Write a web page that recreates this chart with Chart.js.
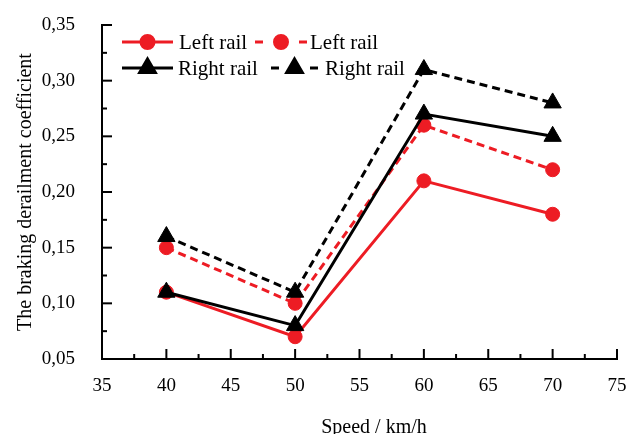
<!DOCTYPE html>
<html>
<head>
<meta charset="utf-8">
<script src="https://cdn.jsdelivr.net/npm/chart.js@4"></script>
<style>body{margin:0;background:#fff}canvas{display:block}</style>
</head>
<body>
<canvas id="brakingChart" width="628" height="434"></canvas>
<script>
// Speed (km/h) and braking derailment coefficient per series
const speeds = [40, 50, 60, 70];
const leftRailSolid = [0.11, 0.07, 0.21, 0.18];
const leftRailDashed = [0.15, 0.10, 0.26, 0.22];
const rightRailSolid = [0.11, 0.08, 0.27, 0.25];
const rightRailDashed = [0.16, 0.11, 0.31, 0.28];
const seriesNames = ['Left rail', 'Left rail', 'Right rail', 'Right rail'];

const RED = '#ed1c24';
const BLACK = '#000000';
const SERIF = "'Liberation Serif', serif";

Chart.defaults.font.family = SERIF;
Chart.defaults.font.size = 19;
Chart.defaults.color = '#000';

function series(label, values, color, style, dashed, order) {
  return {
    label: label,
    data: speeds.map((s, i) => ({x: s, y: values[i]})),
    borderColor: color,
    backgroundColor: color,
    borderWidth: 3,
    borderDash: dashed ? [8, 5] : [],
    pointStyle: style,
    pointRadius: style === 'triangle' ? 10 : 7,
    pointBackgroundColor: color,
    pointBorderColor: color,
    pointBorderWidth: 1,
    fill: false,
    tension: 0,
    order: order
  };
}

// legend is laid out 2 x 2 inside the plot, like the original
const legendSlots = [
  {x0: 122, x1: 173, y: 42, tx: 179},
  {x0: 255, x1: 307, y: 42, tx: 310},
  {x0: 122, x1: 173, y: 68, tx: 178},
  {x0: 271, x1: 318, y: 68, tx: 325}
];

const legendBox = {
  id: 'legendBox',
  afterDraw(chart) {
    const ctx = chart.ctx;
    ctx.save();
    chart.data.datasets.forEach((ds, i) => {
      const s = legendSlots[i];
      ctx.strokeStyle = ds.borderColor;
      ctx.fillStyle = ds.borderColor;
      ctx.lineWidth = 3;
      ctx.setLineDash([]);
      ctx.beginPath();
      if (ds.borderDash.length) {
        ctx.moveTo(s.x0, s.y); ctx.lineTo(s.x0 + 8, s.y);
        ctx.moveTo(s.x1 - 8, s.y); ctx.lineTo(s.x1, s.y);
      } else {
        ctx.moveTo(s.x0, s.y); ctx.lineTo(s.x1, s.y);
      }
      ctx.stroke();
      Chart.helpers.drawPoint(ctx, {
        pointStyle: ds.pointStyle,
        radius: ds.pointStyle === 'triangle' ? 9 : 6.5,
        rotation: 0,
        borderWidth: 1
      }, (s.x0 + s.x1) / 2, s.y);
      ctx.fillStyle = '#000';
      ctx.font = '21px ' + SERIF;
      ctx.textAlign = 'left';
      ctx.textBaseline = 'middle';
      ctx.fillText(ds.label, s.tx, s.y + 1);
    });
    ctx.restore();
  }
};

// tick marks point into the plot, with a minor tick halfway
const inwardTicks = {
  id: 'inwardTicks',
  afterDraw(chart) {
    const {ctx, chartArea: a, scales} = chart;
    ctx.save();
    ctx.strokeStyle = '#000';
    ctx.lineWidth = 2;
    const seg = (x1, y1, x2, y2) => { ctx.beginPath(); ctx.moveTo(x1, y1); ctx.lineTo(x2, y2); ctx.stroke(); };
    const xs = scales.x, ys = scales.y;
    xs.ticks.forEach((t, i) => {
      const p = xs.getPixelForValue(t.value);
      seg(p, a.bottom, p, a.bottom - 10);
      if (i < xs.ticks.length - 1) {
        const m = xs.getPixelForValue((t.value + xs.ticks[i + 1].value) / 2);
        seg(m, a.bottom, m, a.bottom - 5);
      }
    });
    ys.ticks.forEach((t, i) => {
      const p = ys.getPixelForValue(t.value);
      seg(a.left, p, a.left + 10, p);
      if (i < ys.ticks.length - 1) {
        const m = ys.getPixelForValue((t.value + ys.ticks[i + 1].value) / 2);
        seg(a.left, m, a.left + 5, m);
      }
    });
    // x axis title, drawn a little right of centre as in the original
    ctx.fillStyle = '#000';
    ctx.font = '20px ' + SERIF;
    ctx.textAlign = 'center';
    ctx.textBaseline = 'middle';
    ctx.fillText('Speed / km/h', 374, 428);
    ctx.restore();
  }
};

const ctx = document.getElementById('brakingChart').getContext('2d');

const brakingChart = new Chart(ctx, {
  type: 'line',
  data: {
    datasets: [
      series(seriesNames[0], leftRailSolid, RED, 'circle', false, 2),
      series(seriesNames[1], leftRailDashed, RED, 'circle', true, 2),
      series(seriesNames[2], rightRailSolid, BLACK, 'triangle', false, 1),
      series(seriesNames[3], rightRailDashed, BLACK, 'triangle', true, 1)
    ]
  },
  options: {
    responsive: false,
    animation: false,
    layout: {padding: {top: 25, right: 10, left: 0, bottom: 0}},
    plugins: {legend: {display: false}, tooltip: {enabled: false}},
    scales: {
      x: {
        type: 'linear',
        min: 35,
        max: 75,
        ticks: {stepSize: 5, padding: 8, font: {family: SERIF, size: 19}},
        grid: {display: false},
        border: {display: true, color: '#000', width: 2},
        afterFit: s => { s.height = 75; s.paddingLeft = 0; s.paddingRight = 0; }
      },
      y: {
        min: 0.05,
        max: 0.35,
        ticks: {
          stepSize: 0.05,
          padding: 19,
          font: {family: SERIF, size: 19},
          callback: v => v.toFixed(2).replace('.', ',')
        },
        grid: {display: false},
        border: {display: true, color: '#000', width: 2},
        title: {
          display: true,
          text: 'The braking derailment coefficient',
          font: {family: SERIF, size: 20},
          padding: {top: 14, bottom: 0}
        },
        afterFit: s => { s.width = 102; s.paddingTop = 0; s.paddingBottom = 0; }
      }
    }
  },
  plugins: [inwardTicks, legendBox]
});
</script>
</body>
</html>
